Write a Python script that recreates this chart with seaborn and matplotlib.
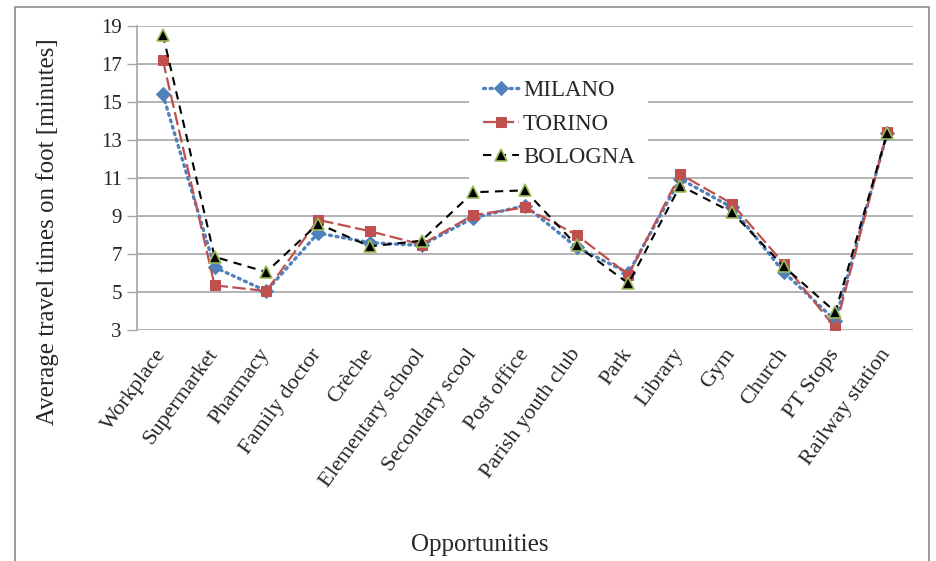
import matplotlib
matplotlib.use("Agg")
import matplotlib.pyplot as plt
from matplotlib.patches import Rectangle
import seaborn as sns
import pandas as pd

categories = ["Workplace", "Supermarket", "Pharmacy", "Family doctor", "Crèche",
              "Elementary school", "Secondary scool", "Post office", "Parish youth club",
              "Park", "Library", "Gym", "Church", "PT Stops", "Railway station"]
milano = [15.4, 6.3, 5.05, 8.1, 7.6, 7.45, 8.9, 9.55, 7.35, 6.0, 10.95, 9.45, 6.05, 3.5, 13.35]
torino = [17.2, 5.35, 5.05, 8.8, 8.2, 7.5, 9.05, 9.45, 8.0, 5.9, 11.2, 9.65, 6.5, 3.1, 13.4]
bologna = [18.55, 6.85, 6.05, 8.6, 7.4, 7.7, 10.25, 10.35, 7.45, 5.45, 10.6, 9.2, 6.35, 3.95, 13.35]
y_ticks = [3, 5, 7, 9, 11, 13, 15, 17, 19]

sns.set_theme(style="white")
plt.rcParams["font.family"] = ["Liberation Serif", "DejaVu Serif"]

fig = plt.figure(figsize=(9.37, 5.61), dpi=100)
ax = fig.add_axes([137 / 937, 1 - 330 / 561, 776 / 937, 304 / 561])

x = list(range(len(categories)))
series = [
    ("MILANO", milano, dict(color="#4F81BD", linestyle=(0, (0.6, 1.4)), marker="D",
                            markersize=7, markerfacecolor="#4F81BD", markeredgecolor="#4F81BD",
                            linewidth=2.4, dash_capstyle="round")),
    ("TORINO", torino, dict(color="#C0504D", linestyle=(0, (6, 2)), marker="s",
                            markersize=7, markerfacecolor="#C0504D", markeredgecolor="#C0504D",
                            linewidth=1.6)),
    ("BOLOGNA", bologna, dict(color="black", linestyle=(0, (4, 3)), marker="^",
                              markersize=8, markerfacecolor="black", markeredgecolor="#9BBB59",
                              markeredgewidth=1.2, linewidth=1.5)),
]
for name, vals, kw in series:
    df = pd.DataFrame({"x": x, "y": vals})
    sns.lineplot(data=df, x="x", y="y", ax=ax, sort=False, label=name, zorder=3, **kw)

ax.set_xlim(-0.5, len(categories) - 0.5)
ax.set_ylim(3, 19)
ax.set_yticks(y_ticks)
ax.set_yticklabels([str(t) for t in y_ticks], fontsize=15)
ax.yaxis.grid(True, color="#A6A6A6", linewidth=1.2)
ax.set_axisbelow(True)
ax.set_xticks(x)
ax.set_xticklabels(categories, rotation=54, ha="right", va="center",
                   rotation_mode="anchor", fontsize=16)
ax.tick_params(axis="x", length=0, pad=15)
ax.tick_params(axis="y", length=7, width=1, color="#A6A6A6", pad=4, left=True)
for side in ["top", "right", "bottom"]:
    ax.spines[side].set_visible(False)
ax.spines["left"].set_color("#A6A6A6")
ax.spines["left"].set_linewidth(1.2)

ax.set_ylabel("")
ax.set_xlabel("")
fig.text(48 / 937, 1 - 232 / 561, "Average travel times on foot [minutes]",
         fontsize=18, rotation=90, ha="center", va="center")
fig.text(480 / 937, 1 - 545 / 561, "Opportunities", fontsize=18, ha="center", va="center")

leg = ax.legend(loc="upper left", bbox_to_anchor=(0.413, 0.905), fontsize=16.5,
                frameon=True, facecolor="white", edgecolor="white", framealpha=1,
                handlelength=1.6, handletextpad=0.15, labelspacing=0.55,
                borderpad=0.6, fancybox=False)
leg.get_frame().set_linewidth(0)

fig.patches.append(Rectangle((15 / 937, -0.1), (929 - 15) / 937, 1 - 7 / 561 + 0.1,
                             transform=fig.transFigure, fill=False,
                             edgecolor="#8C8C8C", linewidth=1.2))

fig.savefig("out.png", dpi=100)
